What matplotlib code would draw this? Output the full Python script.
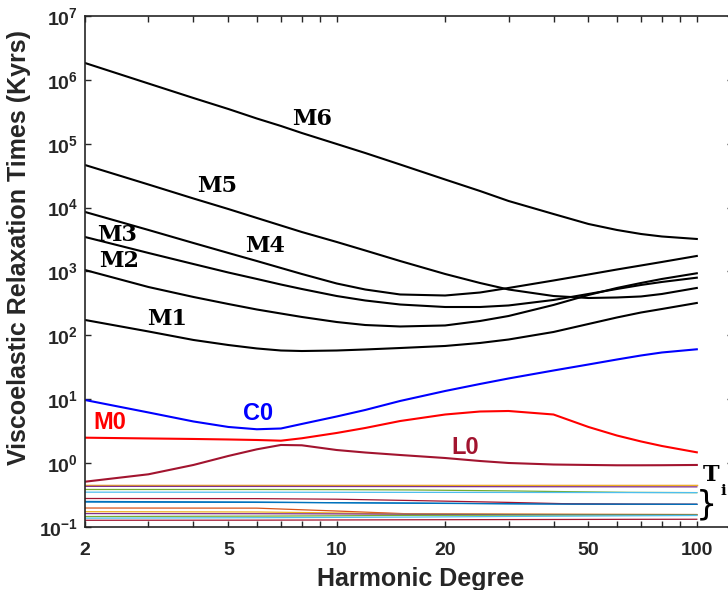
import numpy as np
import matplotlib.pyplot as plt
from matplotlib.ticker import FixedLocator, NullLocator, NullFormatter

plt.rcParams['font.family'] = ['Liberation Sans', 'DejaVu Sans']
plt.rcParams['mathtext.fontset'] = 'custom'
plt.rcParams['mathtext.rm'] = 'Liberation Sans:bold'
plt.rcParams['mathtext.bf'] = 'Liberation Sans:bold'

# harmonic degrees the curves were read at
degrees = [2, 3, 4, 5, 6, 7, 8, 10, 12, 15, 20, 25, 30, 40, 50, 60, 70, 80, 100]

# log10 of relaxation time (kyrs)
m6_log = [6.264, 5.943, 5.716, 5.544, 5.395, 5.278, 5.168, 4.996, 4.855, 4.675,
          4.440, 4.260, 4.104, 3.900, 3.744, 3.650, 3.587, 3.548, 3.509]
m5_log = [4.667, 4.362, 4.143, 3.978, 3.838, 3.720, 3.618, 3.462, 3.329, 3.164,
          2.961, 2.820, 2.718, 2.616, 2.585, 2.593, 2.609, 2.648, 2.742]
m4_log = [3.932, 3.650, 3.446, 3.290, 3.164, 3.055, 2.961, 2.812, 2.718, 2.640,
          2.624, 2.671, 2.742, 2.859, 2.953, 3.031, 3.094, 3.149, 3.243]
m3_log = [3.540, 3.290, 3.117, 2.984, 2.883, 2.796, 2.726, 2.616, 2.546, 2.483,
          2.444, 2.444, 2.468, 2.554, 2.648, 2.726, 2.789, 2.836, 2.903]
m2_log = [3.023, 2.757, 2.601, 2.491, 2.405, 2.342, 2.288, 2.209, 2.162, 2.139,
          2.155, 2.225, 2.303, 2.476, 2.632, 2.742, 2.820, 2.883, 2.972]
m1_log = [2.241, 2.061, 1.928, 1.849, 1.795, 1.763, 1.755, 1.763, 1.779, 1.802,
          1.834, 1.881, 1.935, 2.053, 2.178, 2.280, 2.358, 2.413, 2.507]
c0_log = [0.988, 0.793, 0.652, 0.566, 0.530, 0.542, 0.613, 0.730, 0.832, 0.973,
          1.129, 1.239, 1.325, 1.450, 1.544, 1.622, 1.685, 1.732, 1.782]
m0_log = [0.398, 0.386, 0.378, 0.370, 0.362, 0.351, 0.389, 0.472, 0.550, 0.659,
          0.761, 0.808, 0.816, 0.761, 0.566, 0.432, 0.339, 0.268, 0.169]
l0_log = [-0.291, -0.175, -0.029, 0.112, 0.216, 0.284, 0.279, 0.205, 0.166, 0.127,
          0.080, 0.033, 0.002, -0.022, -0.029, -0.034, -0.034, -0.033, -0.029]

# the T_i family (thin lines near the bottom)
t_degrees = [2, 6, 10, 16, 30, 45, 65, 100]
t_logs = [
    [-0.600, -0.610, -0.620, -0.625, -0.635, -0.640, -0.643, -0.645],
    [-0.340, -0.340, -0.340, -0.340, -0.340, -0.340, -0.340, -0.340],
    [-0.337, -0.337, -0.337, -0.337, -0.337, -0.337, -0.337, -0.337],
    [-0.364, -0.365, -0.366, -0.367, -0.369, -0.370, -0.371, -0.372],
    [-0.413, -0.413, -0.415, -0.420, -0.435, -0.448, -0.458, -0.462],
    [-0.455, -0.456, -0.457, -0.458, -0.459, -0.460, -0.461, -0.462],
    [-0.554, -0.556, -0.565, -0.585, -0.615, -0.638, -0.643, -0.645],
    [-0.610, -0.615, -0.620, -0.628, -0.637, -0.642, -0.644, -0.646],
    [-0.703, -0.705, -0.750, -0.795, -0.800, -0.802, -0.803, -0.805],
    [-0.760, -0.765, -0.780, -0.795, -0.800, -0.803, -0.805, -0.806],
    [-0.790, -0.792, -0.795, -0.800, -0.805, -0.806, -0.807, -0.808],
    [-0.836, -0.830, -0.825, -0.818, -0.815, -0.813, -0.812, -0.812],
    [-0.862, -0.855, -0.850, -0.845, -0.835, -0.830, -0.825, -0.820],
    [-0.895, -0.893, -0.890, -0.887, -0.884, -0.882, -0.880, -0.879],
]
matlab_colors = ['#0072BD', '#D95319', '#EDB120', '#7E2F8E', '#77AC30', '#4DBEEE', '#A2142F']

x_major = [2, 5, 10, 20, 50, 100]
x_minor = [3, 4, 6, 7, 8, 9, 30, 40, 60, 70, 80, 90]
y_exps = list(range(-1, 8))

axis_color = '#262626'
dark_red = '#A2142F'

fig = plt.figure(figsize=(7.28, 5.90), dpi=100)
ax = fig.add_axes([0.1168, 0.1068, 0.890, 0.8661])

for i, tl in enumerate(t_logs):
    ax.plot(t_degrees, 10 ** np.array(tl), color=matlab_colors[i % 7], linewidth=0.9)

for curve in [m6_log, m5_log, m4_log, m3_log, m2_log, m1_log]:
    ax.plot(degrees, 10 ** np.array(curve), color='black', linewidth=1.5)
ax.plot(degrees, 10 ** np.array(c0_log), color='blue', linewidth=1.5)
ax.plot(degrees, 10 ** np.array(m0_log), color='red', linewidth=1.5)
ax.plot(degrees, 10 ** np.array(l0_log), color=dark_red, linewidth=1.5)

ax.set_xscale('log')
ax.set_yscale('log')
ax.set_xlim(2, 126)
ax.set_ylim(1e-1, 1e7)

ax.xaxis.set_major_locator(FixedLocator(x_major))
ax.xaxis.set_minor_locator(FixedLocator(x_minor))
ax.xaxis.set_minor_formatter(NullFormatter())
ax.set_xticklabels([str(v) for v in x_major])
ax.yaxis.set_major_locator(FixedLocator([10.0 ** e for e in y_exps]))
ax.yaxis.set_minor_locator(NullLocator())
ax.set_yticklabels([r'$\mathbf{10^{%d}}$' % e for e in y_exps])

ax.tick_params(which='both', direction='in', top=True, right=True, length=4.3,
               width=1.0, color=axis_color, labelcolor=axis_color, labelsize=14)
ax.tick_params(axis='x', pad=11)
ax.tick_params(axis='y', pad=5)
for lab in ax.get_xticklabels():
    lab.set_fontweight('bold')
for sp in ax.spines.values():
    sp.set_linewidth(1.2)
    sp.set_color(axis_color)

ax.set_xlabel('Harmonic Degree', fontsize=18, fontweight='bold', color=axis_color)
ax.set_ylabel('Viscoelastic Relaxation Times (Kyrs)', fontsize=18, fontweight='bold',
              color=axis_color)
ax.xaxis.set_label_coords(0.5185, -0.078)
ax.yaxis.set_label_coords(-0.083, 0.546)

serif = dict(family='DejaVu Serif', fontweight='bold', fontsize=16, ha='center', va='center')
ax.text(8.52, 2.47e5, 'M6', **serif)
ax.text(4.64, 2.18e4, 'M5', **serif)
ax.text(6.32, 2.52e3, 'M4', **serif)
ax.text(2.46, 3.77e3, 'M3', **serif)
ax.text(2.49, 1.46e3, 'M2', **serif)
ax.text(3.37, 1.80e2, 'M1', **serif)

sans = dict(fontweight='bold', fontsize=17, ha='center', va='center')
ax.text(6.05, 6.03, 'C0', color='blue', **sans)
ax.text(2.35, 4.32, 'M0', color='red', **sans)
ax.text(22.7, 1.76, 'L0', color=dark_red, **sans)

ax.text(109.6, 0.64, 'T', family='DejaVu Serif', fontweight='bold', fontsize=16,
        ha='center', va='center')
ax.text(116.5, 0.366, 'i', family='DejaVu Serif', fontweight='bold', fontsize=11,
        ha='left', va='center')
ax.text(106.2, 0.221, '}', family='DejaVu Sans', fontsize=24, ha='center', va='center')

fig.savefig('out.png', dpi=100)
